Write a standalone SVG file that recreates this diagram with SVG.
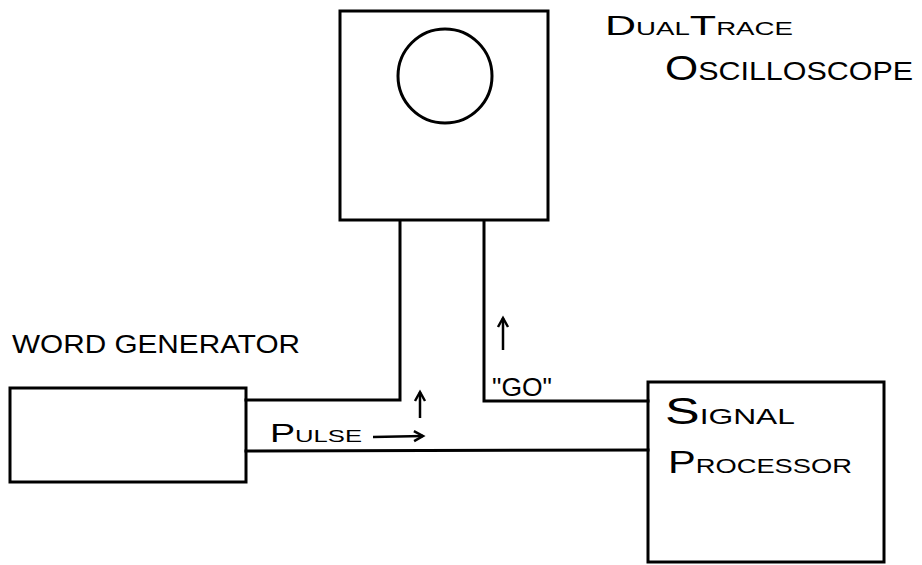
<svg xmlns="http://www.w3.org/2000/svg" width="922" height="565" viewBox="0 0 922 565">
<style>
.box{fill:none;stroke:#000;stroke-width:3}
.wire{fill:none;stroke:#000;stroke-width:3;stroke-linecap:square;stroke-linejoin:miter}
.arr{fill:none;stroke:#000;stroke-width:2.5;marker-end:url(#head)}
text{font-family:"Liberation Sans",Arial,sans-serif;fill:#000}
</style>
<defs>
<marker id="head" viewBox="0 0 12 12" refX="10" refY="6" markerWidth="12" markerHeight="12" orient="auto" markerUnits="userSpaceOnUse" overflow="visible">
<path d="M1,1 L10,6 L1,11" fill="none" stroke="#000" stroke-width="2.5"/>
</marker>
</defs>
<rect width="922" height="565" fill="#fff"/>
<g id="connectors">
<polyline class="wire" points="400,221 400,400 246,400"/>
<polyline class="wire" points="484,221 484,401 648,401"/>
<line class="wire" x1="246" y1="451" x2="648" y2="450"/>
<path class="arr" d="M373,437 L423,436"/>
<path class="arr" d="M420,418 L420,392"/>
<path class="arr" d="M503,350 L503,318"/>
</g>
<g id="oscilloscope">
<rect class="box" x="340" y="11" width="208" height="209"/>
<circle class="box" cx="445" cy="76" r="47"/>
<text x="605" y="35" textLength="188" lengthAdjust="spacingAndGlyphs"><tspan font-size="28">D</tspan><tspan font-size="18">UAL</tspan><tspan font-size="28">T</tspan><tspan font-size="18">RACE</tspan></text>
<text x="665" y="80" textLength="248" lengthAdjust="spacingAndGlyphs"><tspan font-size="35">O</tspan><tspan font-size="25">SCILLOSCOPE</tspan></text>
</g>
<g id="word-generator">
<rect class="box" x="10" y="388" width="236" height="94"/>
<text x="12" y="353" font-size="25" textLength="288" lengthAdjust="spacingAndGlyphs">WORD GENERATOR</text>
</g>
<g id="signal-processor">
<rect class="box" x="648" y="382" width="236" height="180"/>
<text x="665" y="424" textLength="130" lengthAdjust="spacingAndGlyphs"><tspan font-size="36">S</tspan><tspan font-size="22">IGNAL</tspan></text>
<text x="668" y="473" textLength="184" lengthAdjust="spacingAndGlyphs"><tspan font-size="32">P</tspan><tspan font-size="21">ROCESSOR</tspan></text>
</g>
<g id="labels">
<text x="270" y="442" textLength="92" lengthAdjust="spacingAndGlyphs"><tspan font-size="25">P</tspan><tspan font-size="17">ULSE</tspan></text>
<text x="492" y="396" font-size="26" textLength="60" lengthAdjust="spacingAndGlyphs">"GO"</text>
</g>
</svg>
